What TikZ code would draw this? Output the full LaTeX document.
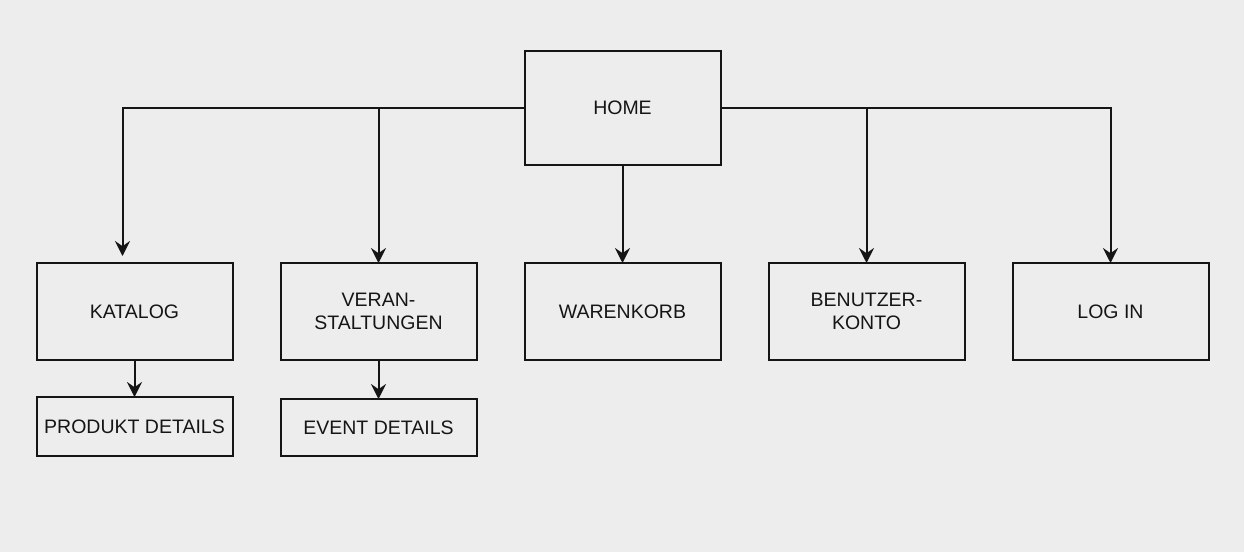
\documentclass[tikz,border=0pt]{standalone}
\usepackage{fontspec}
\setmainfont{Liberation Sans}
\usetikzlibrary{arrows.meta, positioning}
\definecolor{paper}{HTML}{EDEDED}
\definecolor{ink}{HTML}{151515}

\begin{document}
\begin{tikzpicture}[
    x=1pt, y=1pt,
    node distance=24pt, auto,
    every node/.style={
        draw=ink, rectangle, align=center, line width=1pt,
        minimum width=98pt, minimum height=48.5pt, inner sep=2pt, outer sep=0pt,
        text=ink, font=\fontsize{9.75}{11.5}\selectfont
    },
    link/.style={-{Stealth[length=7.5pt, width=7.5pt, inset=2.6pt]}, draw=ink, line width=1pt}
]
    \fill[paper] (0,0) rectangle (622,-276);
    \useasboundingbox (0,0) rectangle (622,-276);

    \node[minimum height=57pt] (home) at (311.25,-54) {HOME};
    \node (korb) [below=49pt of home] {WARENKORB};
    \node (events) [left=of korb] {VERAN-\\STALTUNGEN};
    \node (katalog) [left=of events] {KATALOG};
    \node (konto) [right=of korb] {BENUTZER-\\KONTO};
    \node (login) [right=of konto] {LOG IN};
    \node[minimum height=29.5pt] (produkt) [below=18.5pt of katalog] {PRODUKT DETAILS};
    \node[minimum height=28.5pt] (eventdetails) [below=19.5pt of events] {EVENT DETAILS};

    \draw[link] (home.west) -| ([xshift=-6pt, yshift=3.5pt]katalog.north);
    \draw[link] (home.west) -| (events.north);
    \draw[link] (home) -- (korb);
    \draw[link] (home.east) -| (konto.north);
    \draw[link] (home.east) -| (login.north);
    \draw[link] (katalog) -- (produkt);
    \draw[link] (events) -- (eventdetails);
\end{tikzpicture}
\end{document}
